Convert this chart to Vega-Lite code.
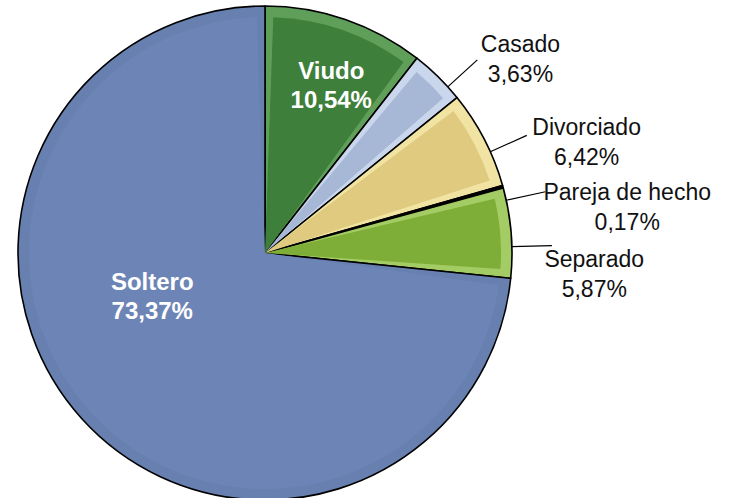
{
  "$schema": "https://vega.github.io/schema/vega-lite/v6.json",
  "width": 530,
  "height": 506,
  "autosize": {"type": "none"},
  "padding": {"left": 0, "top": 0, "right": 201, "bottom": 0},
  "background": "white",
  "config": {"view": {"stroke": null}},
  "data": {
    "values": [
      {"category": "Viudo", "value": 10.54, "order": 1},
      {"category": "Casado", "value": 3.63, "order": 2},
      {"category": "Divorciado", "value": 6.42, "order": 3},
      {"category": "Pareja de hecho", "value": 0.17, "order": 4},
      {"category": "Separado", "value": 5.87, "order": 5},
      {"category": "Soltero", "value": 73.37, "order": 6}
    ]
  },
  "transform": [
    {"stack": "value", "groupby": [], "sort": [{"field": "order", "order": "ascending"}], "as": ["v0", "v1"]},
    {"calculate": "(datum.v0 + datum.v1) / 2", "as": "mid"},
    {"calculate": "datum.category + '\\n' + replace(format(datum.value, '.2f'), '.', ',') + '%'", "as": "label"}
  ],
  "resolve": {"scale": {"color": "independent"}},
  "layer": [
    {
      "mark": {"type": "arc", "radius": 247, "stroke": "#000000", "strokeWidth": 1.6, "strokeJoin": "round"},
      "encoding": {
        "theta": {"field": "v0", "type": "quantitative", "scale": {"domain": [0, 100]}, "stack": null},
        "theta2": {"field": "v1"},
        "color": {
          "field": "category", "type": "nominal", "legend": null,
          "scale": {
            "domain": ["Viudo", "Casado", "Divorciado", "Pareja de hecho", "Separado", "Soltero"],
            "range": ["#5f9f5a", "#c9d6eb", "#f1e3a2", "#000000", "#a4cc64", "#6880b0"]
          }
        }
      }
    },
    {
      "mark": {"type": "arc", "radius": 236, "padAngle": 0.07},
      "encoding": {
        "theta": {"field": "v0", "type": "quantitative", "scale": {"domain": [0, 100]}, "stack": null},
        "theta2": {"field": "v1"},
        "color": {
          "field": "category", "type": "nominal", "legend": null,
          "scale": {
            "domain": ["Viudo", "Casado", "Divorciado", "Pareja de hecho", "Separado", "Soltero"],
            "range": ["#3e7f3b", "#a7b8d6", "#dfca7f", "#000000", "#7fae38", "#6d85b6"]
          }
        }
      }
    },
    {
      "transform": [
        {"filter": "datum.value < 10"},
        {"calculate": "datum.mid + 0.9", "as": "lineA"}
      ],
      "mark": {"type": "arc", "radius": 287, "radius2": 247, "stroke": "#000000", "strokeWidth": 1.2, "fillOpacity": 0},
      "encoding": {
        "theta": {"field": "lineA", "type": "quantitative", "scale": {"domain": [0, 100]}, "stack": null},
        "theta2": {"field": "lineA"}
      }
    },
    {
      "transform": [
        {"filter": "datum.value < 10"},
        {"calculate": "datum.mid + 2.36", "as": "la"},
        {"calculate": "290 + 5 * length(datum.category)", "as": "lr"}
      ],
      "mark": {"type": "text", "font": "Liberation Sans", "fontSize": 23, "lineBreak": "\n", "lineHeight": 30, "align": "center", "baseline": "middle", "dy": -15, "color": "#111111"},
      "encoding": {
        "theta": {"field": "la", "type": "quantitative", "scale": {"domain": [0, 100]}},
        "radius": {"field": "lr", "type": "quantitative", "scale": null},
        "text": {"field": "label", "type": "nominal"}
      }
    },
    {
      "transform": [
        {"filter": "datum.value >= 10"},
        {"calculate": "datum.mid + (datum.category == 'Soltero' ? 5.77 : 0.73)", "as": "la"},
        {"calculate": "datum.category == 'Soltero' ? 121 : 180", "as": "lr"}
      ],
      "mark": {"type": "text", "font": "Liberation Sans", "fontSize": 24, "fontWeight": "bold", "lineBreak": "\n", "lineHeight": 29, "align": "center", "baseline": "middle", "dy": -14, "color": "#ffffff"},
      "encoding": {
        "theta": {"field": "la", "type": "quantitative", "scale": {"domain": [0, 100]}},
        "radius": {"field": "lr", "type": "quantitative", "scale": null},
        "text": {"field": "label", "type": "nominal"}
      }
    }
  ]
}
